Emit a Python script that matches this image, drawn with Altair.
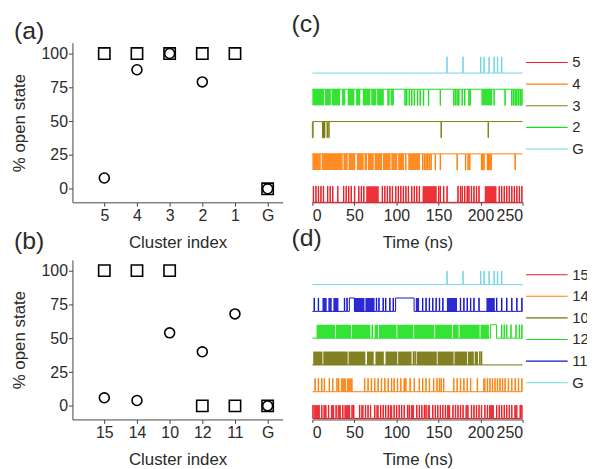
import altair as alt
import pandas as pd

# ---------------- data ----------------
a_clusters = ["5", "4", "3", "2", "1", "G"]
a_square = [100, 100, 100, 100, 100, 0]
a_circle = [8, 88, 100, 79, None, 0]

b_clusters = ["15", "14", "10", "12", "11", "G"]
b_square = [100, 100, 100, 0, 0, 0]
b_circle = [6, 4, 54, 40, 68, 0]

# telegraph traces, listed bottom -> top
c_names = ["5", "4", "3", "2", "G"]
c_colors = ["#ec1c24", "#ff7f0a", "#808010", "#1ee01e", "#6fd6e2"]
c_rest = ["lo", "hi", "hi", "hi", "lo"]
c_pulses = [
    [1, 4, 7, 10, 13, 18, 21, 24, 30, 37, 40, 43, 46, 50, 55, 58, 61, 83, 86, 89, 92, 95, 99, 102,
     105, 108, 111, 114, 118, 121, 124, 127, 150, 152, 156, 160, 173, 176, 178, 181, 184, 186, 189,
     192, 195, 198, 222, 225, 228, 231, 234, 237, 240, 243, 246, 249],
    [131, 133, 135, 137, 139, 141, 146, 152, 172, 182, 185, 187, 201, 202.5, 204, 208, 209.5, 211,
     212.5, 241],
    [12, 12.8, 13.6, 14.4, 17.5, 19.5, 153, 209],
    [110, 112, 115, 118, 121, 125, 128, 132, 138, 152, 168, 170, 172, 174, 178, 181, 186, 187.5,
     216, 229, 237, 239, 241, 243, 245, 247, 249],
    [160, 179, 200, 204, 210, 216, 220, 225],
]
c_intervals = [[], [], [[0, 1]], [], []]
c_dense = [
    [[64, 79], [131, 148], [205, 219]],
    [[0, 10], [11, 36], [37, 42], [43, 51], [53, 61], [62, 65], [66, 73], [74, 83], [84, 93],
     [94, 101], [102, 109], [110, 112], [114, 128]],
    [],
    [[0, 14], [15, 22], [23, 33], [35, 39], [42, 50], [52, 57], [60, 69], [70, 76], [77, 85],
     [89, 92], [93, 97], [201, 214]],
    [],
]

d_names = ["15", "14", "10", "12", "11", "G"]
d_colors = ["#ec1c24", "#ff7f0a", "#74740a", "#1ee01e", "#1414cc", "#6fd6e2"]
d_rest = ["lo", "lo", "lo", "lo", "lo", "lo"]
d_pulses = [
    [0.5, 11, 19, 28, 36, 47, 49, 56, 63, 66, 69, 74, 81, 84, 87, 90, 97, 100, 103, 106, 109, 113,
     115, 124, 127, 130, 133, 135, 143, 146, 149, 152, 155, 158, 167, 170, 173, 176, 179, 189, 192,
     195, 198, 201, 205, 208, 219, 222, 225, 228, 231, 234, 237, 247, 249],
    [3, 7, 11, 14, 20, 24, 29, 31, 62, 66, 70, 74, 78, 82, 86, 90, 94, 97, 101, 105, 109, 111, 116,
     121, 127, 131, 135, 139, 144, 148, 151, 153, 156, 168, 172, 176, 180, 184, 188, 196, 208, 211,
     214, 217, 220, 223, 226, 229, 233, 237, 241, 245, 249],
    [120, 122, 199, 201],
    [71, 225, 228, 231, 236, 242, 246, 249],
    [2, 7, 38, 41, 76, 79, 84, 87, 92, 96, 131, 135, 139, 143, 147, 151, 155, 176, 180, 184, 188,
     192, 198, 219, 225, 231, 237, 243, 249],
    [160, 179, 200, 204, 210, 216, 220, 225],
]
d_intervals = [[], [], [], [[212, 219]], [[44, 50], [99, 121]], []]
d_dense = [
    [[2, 9], [13, 17], [22, 26], [30, 34], [38, 45], [58, 61], [76, 79], [92, 95], [117, 121],
     [137, 140], [160, 164], [182, 186], [210, 216], [240, 244]],
    [[34, 40], [41, 48], [203, 206]],
    [[1, 12], [13, 42], [43, 63], [65, 73], [75, 85], [87, 101], [102, 118], [124, 148],
     [149, 168], [169, 184], [185, 192], [193, 197]],
    [[5, 27], [28, 46], [47, 69], [74, 78], [79, 100], [101, 120], [121, 145], [146, 166],
     [167, 174], [175, 199], [200, 210]],
    [[12, 17], [19, 23], [25, 31], [50, 62], [63, 74], [123, 127], [160, 172], [207, 217]],
    [],
]
legend_c = ["5", "4", "3", "2", "G"]
legend_d = ["15", "14", "10", "12", "11", "G"]

FONT = "Liberation Sans"
TXT = "#2a2a2a"
AX = "#444444"
PULSE_W = 0.45
T_END = 250


def panel_title(label, dx, dy):
    return alt.TitleParams(label, anchor="start", frame="group", dx=dx, dy=dy, offset=0,
                           fontSize=25, fontWeight="normal", font=FONT, color=TXT,
                           baseline="bottom")


def scatter(cats, sq, ci, label, dy, xtitle_pad):
    rows = []
    for c, v in zip(cats, sq):
        rows.append({"cluster": c, "value": v, "kind": "square"})
    for c, v in zip(cats, ci):
        if v is not None:
            rows.append({"cluster": c, "value": v, "kind": "circle"})
    df = pd.DataFrame(rows)
    return alt.Chart(df, title=panel_title(label, -59, dy)).mark_point(
        filled=False, color="black", strokeWidth=1.6, opacity=1).encode(
        x=alt.X("cluster:N", sort=cats,
                scale=alt.Scale(type="point", padding=0.717, align=0.68),
                axis=alt.Axis(title="Cluster index", labelAngle=0, tickSize=4, labelPadding=1,
                              titlePadding=xtitle_pad)),
        y=alt.Y("value:Q", scale=alt.Scale(domain=[-10, 108], nice=False, zero=False),
                axis=alt.Axis(title="% open state", values=[0, 25, 50, 75, 100], grid=False,
                              tickSize=4, labelPadding=1, titlePadding=13)),
        shape=alt.Shape("kind:N", scale=alt.Scale(domain=["square", "circle"],
                                                   range=["square", "circle"]), legend=None),
        size=alt.Size("kind:N", scale=alt.Scale(domain=["square", "circle"], range=[130, 100]),
                      legend=None),
    ).properties(width=212, height=161)


def traces(names, colors, rest, pulses, intervals, dense, legend_order, ydom, label,
           dy, xtitle_pad, lx, ly):
    line_rows, rect_rows = [], []
    for k, name in enumerate(names):
        lo, hi = 2 * k, 2 * k + 1
        base = lo if rest[k] == "lo" else hi
        other = hi if base == lo else lo
        segs = sorted([(t, t + PULSE_W) for t in pulses[k]] + [tuple(iv) for iv in intervals[k]])
        pts = [(0, base)]
        for s, e in segs:
            pts += [(s, base), (s, other), (e, other), (e, base)]
        pts.append((T_END, base))
        for i, (t, y) in enumerate(pts):
            line_rows.append({"trace": name, "t": t, "y": y, "i": i})
        for s, e in dense[k]:
            rect_rows.append({"trace": name, "t": s, "t2": e, "lo": lo, "hi": hi})
    col_range = [colors[names.index(n)] for n in legend_order]
    color = alt.Color("trace:N", scale=alt.Scale(domain=legend_order, range=col_range),
                      legend=alt.Legend(title=None, orient="none", legendX=lx, legendY=ly,
                                        symbolType="M-7.2,0H1.2", symbolSize=100,
                                        symbolStrokeWidth=1.1, labelFontSize=15,
                                        labelFont=FONT, labelColor=TXT, rowPadding=5.8,
                                        padding=0, labelOffset=3))
    xenc = alt.X("t:Q", scale=alt.Scale(domain=[0, 250], nice=False, zero=False),
                 axis=alt.Axis(title="Time (ns)", values=[0, 50, 100, 150, 200, 250], grid=False,
                               tickSize=3, labelPadding=2, titlePadding=xtitle_pad))
    yscale = alt.Scale(domain=ydom, nice=False, zero=False)
    lines = alt.Chart(pd.DataFrame(line_rows)).mark_line(strokeWidth=1, interpolate="linear").encode(
        x=xenc, y=alt.Y("y:Q", scale=yscale, axis=None), color=color,
        detail="trace:N", order="i:Q")
    rects = alt.Chart(pd.DataFrame(rect_rows)).mark_rect(opacity=0.9).encode(
        x=alt.X("t:Q"), x2="t2:Q", y=alt.Y("lo:Q", scale=yscale, axis=None), y2="hi:Q",
        color=alt.Color("trace:N", legend=None))
    return alt.layer(lines, rects, title=panel_title(label, -21, dy)).properties(
        width=212, height=161)


pa = scatter(a_clusters, a_square, a_circle, "(a)", 26, 12)
pb = scatter(b_clusters, b_square, b_circle, "(b)", 19.5, 11)
pc = traces(c_names, c_colors, c_rest, c_pulses, c_intervals, c_dense, legend_c, [0, 9.88],
            "(c)", 19, 12, 244, 12.5)
pd_ = traces(d_names, d_colors, d_rest, d_pulses, d_intervals, d_dense, legend_d, [-0.07, 11.85],
             "(d)", 16.5, 11, 244, 7.5)

chart = alt.concat(pa, pc, pb, pd_, columns=2, spacing={"row": 58, "column": 30},
                   bounds="flush").resolve_scale(
    x="independent", y="independent", color="independent"
).resolve_legend(color="independent").properties(
    padding={"left": 1, "top": 1, "right": -3, "bottom": 0}
).configure_view(stroke="transparent").configure_axis(
    labelFont=FONT, titleFont=FONT, labelFontSize=16, titleFontSize=17,
    labelColor=TXT, titleColor=TXT, titleFontWeight="normal",
    domainColor=AX, tickColor=AX, domainWidth=1, tickWidth=1
)

chart.save("out.html", embed_options={"renderer": "svg", "actions": False})
